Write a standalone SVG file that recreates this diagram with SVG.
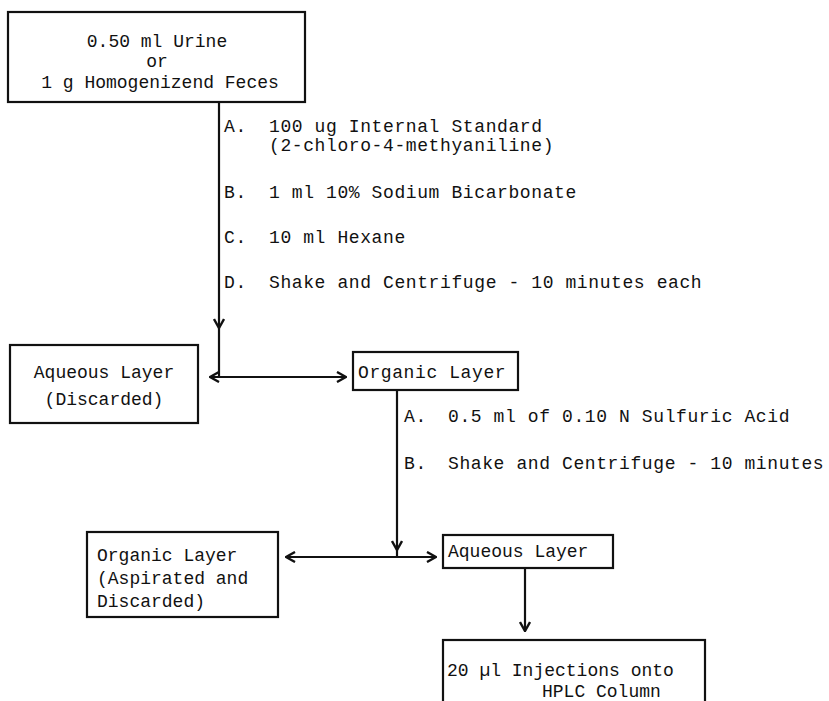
<svg xmlns="http://www.w3.org/2000/svg" width="829" height="701" viewBox="0 0 829 701">
  <style>
    .box { fill: #fff; stroke: #111; stroke-width: 2.2; }
    .wire { fill: none; stroke: #111; stroke-width: 2.2; }
    .t { font-family: "Liberation Mono", "DejaVu Sans Mono", monospace; font-size: 18px; fill: #111; }
    .s { letter-spacing: 0.6px; }
    .mid { text-anchor: middle; }
  </style>
  <defs>
    <marker id="arr" viewBox="0 0 12 12" refX="11" refY="6" markerWidth="12" markerHeight="12" markerUnits="userSpaceOnUse" orient="auto-start-reverse">
      <path d="M2,1 L11,6 L2,11" fill="none" stroke="#111" stroke-width="2.4"/>
    </marker>
  </defs>
  <rect width="829" height="701" fill="#fff"/>

  <!-- connectors -->
  <g id="connectors">
    <line class="wire" x1="219" y1="102" x2="219" y2="328" marker-end="url(#arr)"/>
    <line class="wire" x1="219" y1="328" x2="219" y2="377"/>
    <line class="wire" x1="210" y1="377" x2="346" y2="377" marker-start="url(#arr)" marker-end="url(#arr)"/>
    <line class="wire" x1="397" y1="390" x2="397" y2="550" marker-end="url(#arr)"/>
    <line class="wire" x1="397" y1="550" x2="397" y2="557"/>
    <line class="wire" x1="286" y1="557" x2="436" y2="557" marker-start="url(#arr)" marker-end="url(#arr)"/>
    <line class="wire" x1="525" y1="568" x2="525" y2="631" marker-end="url(#arr)"/>
  </g>

  <!-- step notes -->
  <g id="steps1" class="t s">
    <text x="224" y="132">A.</text>
    <text x="269" y="132">100 ug Internal Standard</text>
    <text x="269" y="151">(2-chloro-4-methyaniline)</text>
    <text x="224" y="198">B.</text>
    <text x="269" y="198">1 ml 10% Sodium Bicarbonate</text>
    <text x="224" y="243">C.</text>
    <text x="269" y="243">10 ml Hexane</text>
    <text x="224" y="288">D.</text>
    <text x="269" y="288">Shake and Centrifuge - 10 minutes each</text>
  </g>
  <g id="steps2" class="t s">
    <text x="404" y="422">A.</text>
    <text x="448" y="422">0.5 ml of 0.10 N Sulfuric Acid</text>
    <text x="404" y="469">B.</text>
    <text x="448" y="469">Shake and Centrifuge - 10 minutes</text>
  </g>

  <!-- nodes -->
  <g id="sample">
    <rect class="box" x="8" y="12" width="297" height="90"/>
    <text class="t mid" x="157" y="47">0.50 ml Urine</text>
    <text class="t mid" x="157" y="67">or</text>
    <text class="t mid" x="160" y="88">1 g Homogenizend Feces</text>
  </g>
  <g id="aqueous1">
    <rect class="box" x="10" y="345" width="188" height="78"/>
    <text class="t mid" x="104" y="378">Aqueous Layer</text>
    <text class="t mid" x="104" y="405">(Discarded)</text>
  </g>
  <g id="organic1">
    <rect class="box" x="353" y="352" width="165" height="38"/>
    <text class="t s" x="358" y="378">Organic Layer</text>
  </g>
  <g id="organic2">
    <rect class="box" x="87" y="532" width="191" height="85"/>
    <text class="t" x="97" y="561">Organic Layer</text>
    <text class="t" x="97" y="584">(Aspirated and</text>
    <text class="t" x="97" y="607">Discarded)</text>
  </g>
  <g id="aqueous2">
    <rect class="box" x="443" y="535" width="170" height="33"/>
    <text class="t" x="448" y="557">Aqueous Layer</text>
  </g>
  <g id="injection">
    <rect class="box" x="443" y="640" width="262" height="80"/>
    <text class="t" x="447" y="676">20 µl Injections onto</text>
    <text class="t" x="542" y="697">HPLC Column</text>
  </g>
</svg>
